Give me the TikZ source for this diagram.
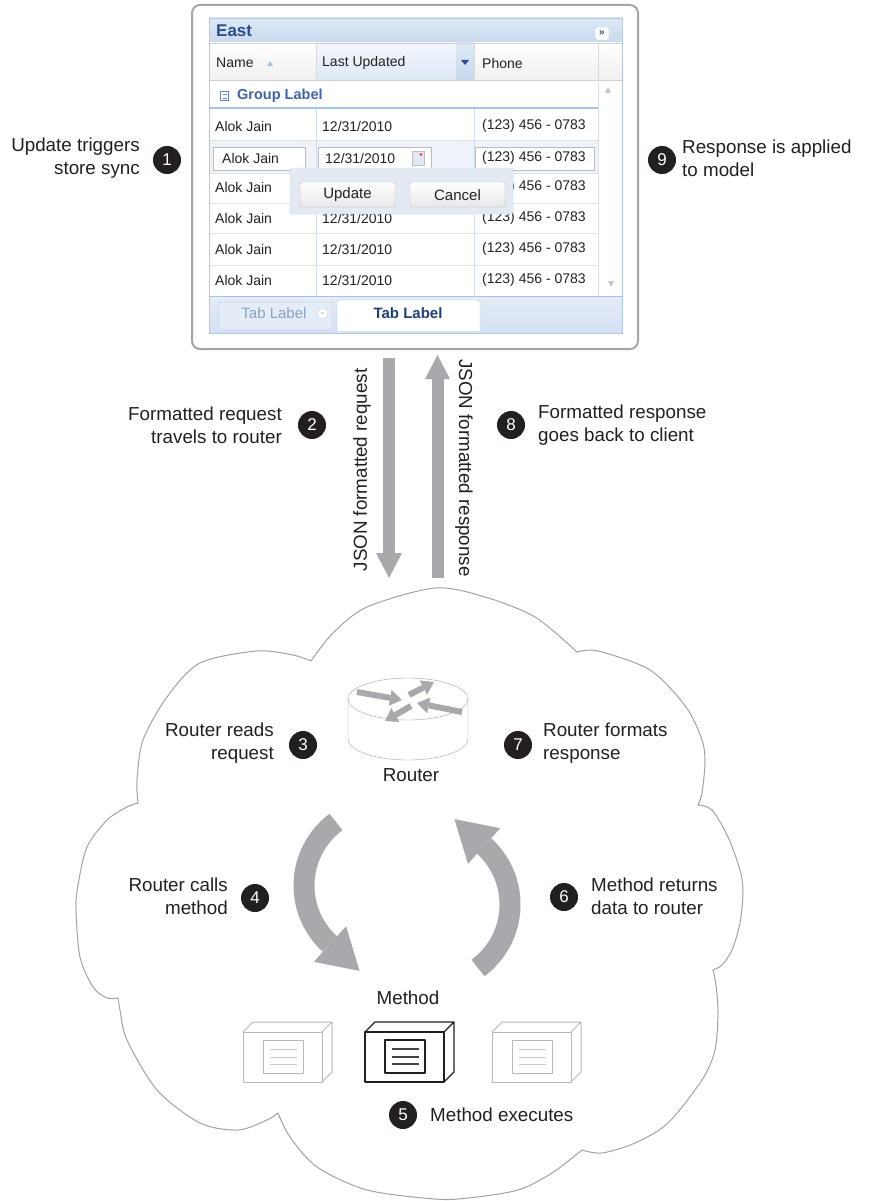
\documentclass[tikz,border=0pt]{standalone}
\usepackage{fontspec}
\setmainfont{Liberation Sans}
\usetikzlibrary{calc}

\definecolor{ink}{HTML}{231F20}
\definecolor{flowgray}{HTML}{A7A9AC}
\definecolor{cloudedge}{HTML}{A0A2A5}
\definecolor{framegray}{HTML}{A6A6A6}
\definecolor{panelborder}{HTML}{B4C8E4}
\definecolor{hdrtop}{HTML}{DFE9F6}
\definecolor{hdrbot}{HTML}{C8D8EE}
\definecolor{titleblue}{HTML}{2B4F8C}
\definecolor{groupblue}{HTML}{3E64A8}
\definecolor{groupline}{HTML}{A9C3E7}
\definecolor{rowline}{HTML}{E3E3E3}
\definecolor{colline}{HTML}{D3DFF0}
\definecolor{celltext}{HTML}{222222}
\definecolor{fieldedge}{HTML}{B7BCC6}
\definecolor{editrow}{HTML}{EFF3F9}
\definecolor{popupbg}{HTML}{E3EAF4}
\definecolor{popupedge}{HTML}{BFCCDE}
\definecolor{btnedge}{HTML}{B9B9B9}
\definecolor{tabbar}{HTML}{D3E0F2}
\definecolor{tabedge}{HTML}{A9C0E0}
\definecolor{tabdim}{HTML}{8CA2C2}
\definecolor{tabbold}{HTML}{1F3F7A}
\definecolor{boxgray}{HTML}{B8B8B8}
\definecolor{boxline}{HTML}{C9C9C9}
\definecolor{routeredge}{HTML}{A3A3A3}

\newcommand\labelsize{\fontsize{18.8pt}{23pt}\selectfont}
\newcommand\cellsize{\fontsize{14pt}{16pt}\selectfont}

% thick arrow: tail, tip, shaft width, half head width, head length
\newcommand\fatarrow[5]{%
  \coordinate (fabase) at ($(#2)!#5!(#1)$);
  \draw[line width=#3] (#1) -- (fabase);
  \fill ($(fabase)!#4!90:(#2)$) -- (#2) -- ($(fabase)!#4!-90:(#2)$) -- cycle;}

% method box: left x, outline colour, text-line colour, line width
\newcommand\methodbox[4]{%
  \begin{scope}[shift={(#1,0)}, line width=#4, line join=round]
    \draw[#2, fill=white] (0,1032) rectangle (79,1082);
    \draw[#2] (0,1032) -- (10,1022) -- (89,1022) -- (79,1032)
              (89,1022) -- (89,1072) -- (79,1082);
    \draw[#2] (20,1040) rectangle (60,1073);
    \draw[#3] (27,1049) -- (54,1049) (27,1057) -- (54,1057) (27,1064) -- (54,1064);
  \end{scope}}

\begin{document}
\begin{tikzpicture}[x=1pt, y=-1pt,
  lbl/.style={font=\labelsize, text=ink, inner sep=0pt},
  lblright/.style={lbl, align=right, anchor=east},
  lblleft/.style={lbl, align=left, anchor=west},
  numdot/.style={circle, fill=ink, text=white, minimum size=28pt, inner sep=0pt,
                 font=\fontsize{17pt}{17pt}\selectfont},
  cell/.style={font=\cellsize, text=celltext, anchor=west, inner sep=0pt},
  cloudline/.style={draw=cloudedge, line width=1pt},
]
\useasboundingbox (0,0) rectangle (869,1201);

% ---------------- grid window ----------------
\draw[framegray, line width=2pt, fill=white, rounded corners=8pt] (192,5) rectangle (638,349);
\shade[top color=hdrtop, bottom color=hdrbot] (209,18) rectangle (622,43);
\node[font=\fontsize{17pt}{17pt}\selectfont\bfseries, text=titleblue, anchor=west, inner sep=0pt]
  (east) at (216,31) {East};
\draw[panelborder, fill=white, rounded corners=1.5pt] (595,27) rectangle (609,40);
\node[font=\fontsize{10pt}{10pt}\selectfont\bfseries, text=titleblue, inner sep=0pt]
  (collapse) at (602,33) {»};

% column headers
\shade[top color=white, bottom color=gray!12] (209,43) rectangle (622,80);
\shade[top color=hdrtop!40, bottom color=hdrtop] (316,43) rectangle (474,80);
\shade[top color=hdrtop, bottom color=hdrbot] (456,43) rectangle (474,80);
\draw[gray!35] (209,43) -- (622,43) (209,80) -- (622,80);
\draw[gray!30] (316,43) -- (316,80) (474,43) -- (474,80) (598,43) -- (598,80);
\node[cell] (hname) at (216,63) {Name};
\fill[groupline] (267,66) -- (273,66) -- (270,61) -- cycle;
\node[cell] (hdate) at (322,63) {Last Updated};
\fill[titleblue] (461,60) -- (469,60) -- (465,65) -- cycle;
\node[cell] (hphone) at (482,63) {Phone};

% scroll column
\draw[gray!25] (598,80) -- (598,296);
\fill[gray!45] (605,93) -- (611,93) -- (608,87) -- cycle;
\fill[gray!45] (608,281) -- (614,281) -- (611,287) -- cycle;

% group row
\draw[groupblue!80, line width=0.9pt] (220.5,91.5) rectangle (228.5,100.5);
\draw[groupblue!80, line width=0.9pt] (222.5,94) -- (226.5,94) (222.5,98) -- (226.5,98);
\node[font=\fontsize{14.5pt}{16pt}\selectfont\bfseries, text=groupblue, anchor=west, inner sep=0pt]
  (group) at (237,96) {Group Label};
\draw[groupline, line width=2pt] (209,108) -- (598,108);

% rows
\fill[editrow] (209,140) rectangle (598,173);
\draw[rowline] (209,140) -- (598,140) (209,173) -- (598,173) (209,203) -- (598,203)
               (209,233) -- (598,233) (209,265) -- (598,265);
\draw[colline] (316,109) -- (316,296) (474,109) -- (474,296);

\node[cell] (n1) at (215,126) {Alok Jain};
\node[cell] (d1) at (322,126) {12/31/2010};
\node[cell] (p1) at (482,126) {(123) 456 - 0783};

\draw[fieldedge, fill=white] (213,147) rectangle (305,170);
\draw[fieldedge, fill=white] (318,147) rectangle (431,170);
\draw[fieldedge, fill=white] (475,147) rectangle (594,170);
\draw[gray!50, fill=hdrtop] (412,151) rectangle (424,165);
\fill[red!75] (421,154.5) circle (1.6pt);
\node[cell] (n2) at (222,158) {Alok Jain};
\node[cell] (d2) at (325,158) {12/31/2010};
\node[cell] (p2) at (482,158) {(123) 456 - 0783};

\node[cell] (n3) at (215,187) {Alok Jain};
\node[cell] (p3) at (482,187) {(123) 456 - 0783};
\node[cell] (n4) at (215,218) {Alok Jain};
\node[cell] (d4) at (322,218) {12/31/2010};
\node[cell] (p4) at (482,218) {(123) 456 - 0783};
\node[cell] (n5) at (215,249) {Alok Jain};
\node[cell] (d5) at (322,249) {12/31/2010};
\node[cell] (p5) at (482,249) {(123) 456 - 0783};
\node[cell] (n6) at (215,280) {Alok Jain};
\node[cell] (d6) at (322,280) {12/31/2010};
\node[cell] (p6) at (482,280) {(123) 456 - 0783};

% row editor buttons
\draw[popupedge, fill=popupbg, rounded corners=2pt] (290,168) -- (290,214) -- (513,214) -- (513,168);
\shade[top color=white, bottom color=gray!18, draw=btnedge, rounded corners=2pt] (300,182) rectangle (395,207);
\shade[top color=white, bottom color=gray!18, draw=btnedge, rounded corners=2pt] (410,182) rectangle (505,207);
\node[font=\fontsize{15pt}{16pt}\selectfont, text=celltext, inner sep=0pt] (update) at (347.5,195) {Update};
\node[font=\fontsize{15pt}{16pt}\selectfont, text=celltext, inner sep=0pt] (cancel) at (457.5,195) {Cancel};

% tab strip
\shade[top color=tabbar!60, bottom color=tabbar] (209,296) rectangle (622,333);
\draw[tabedge] (209,296) -- (622,296);
\draw[tabedge, fill=hdrtop!85, rounded corners=2pt] (219,329) -- (219,302) -- (332,302) -- (332,329);
\node[font=\fontsize{15pt}{16pt}\selectfont, text=tabdim, inner sep=0pt] (tab1) at (274,313) {Tab Label};
\draw[tabdim!70, fill=white, rounded corners=1pt] (318,309) rectangle (327,318);
\node[font=\fontsize{6pt}{6pt}\selectfont, text=tabdim, inner sep=0pt] (tabx) at (322.5,313.5) {×};
\draw[tabedge, fill=white, rounded corners=2pt] (337,331) -- (337,300) -- (480,300) -- (480,331);
\node[font=\fontsize{15pt}{16pt}\selectfont\bfseries, text=tabbold, inner sep=0pt] (tab2) at (408,313) {Tab Label};
\draw[panelborder] (209,18) rectangle (622,333);

% ---------------- request / response ----------------
\coordinate (reqtail) at (389,358);
\coordinate (reqtip) at (389,578);
\coordinate (resptail) at (437.5,578);
\coordinate (resptip) at (437.5,355);
\begin{scope}[color=flowgray]
  \fatarrow{reqtail}{reqtip}{12pt}{13pt}{25pt}
  \fatarrow{resptail}{resptip}{12pt}{12.5pt}{24pt}
\end{scope}
\node[lbl, rotate=90] (reqlabel) at (362,470) {JSON formatted request};
\node[lbl, rotate=-90] (resplabel) at (464,468) {JSON formatted response};

% ---------------- cloud ----------------
\draw[cloudline]
  plot[smooth] coordinates {(311,661) (333,633) (367,607) (435,588) (485,597) (535,617) (577,652)}
  -- plot[smooth] coordinates {(577,652) (598,651) (650,670) (686,707) (702,740) (705,762) (702,793) (698,805)}
  -- plot[smooth] coordinates {(698,805) (712,810) (728,837) (740,870) (743,892) (740,923) (732,950) (722,965) (713,970)}
  -- plot[smooth] coordinates {(713,970) (716,985) (718,1013) (715,1050) (702,1080) (668,1123) (635,1143) (602,1153) (582,1150)}
  -- plot[smooth] coordinates {(582,1150) (552,1173) (518,1190) (468,1198) (435,1199) (367,1190) (317,1167) (290,1137) (278,1113)}
  -- plot[smooth] coordinates {(278,1113) (267,1120) (238,1130) (200,1123) (157,1090) (127,1040) (120,1010) (118,998)}
  -- plot[smooth] coordinates {(118,998) (107,998) (93,987) (80,957) (76,910) (78,885) (87,847) (107,820) (127,807) (138,803)}
  -- plot[smooth] coordinates {(138,803) (137,780) (143,740) (167,697) (200,663) (257,651) (293,655) (311,661)};

% ---------------- router ----------------
\draw[routeredge, fill=white] (348,699) -- (348,739)
  arc[start angle=180, end angle=0, x radius=60, y radius=21] -- (468,699);
\draw[routeredge, fill=white] (408,699) ellipse [x radius=60, y radius=21];
\coordinate (ra1) at (357,692); \coordinate (ra2) at (402,700);
\coordinate (rb1) at (409,695); \coordinate (rb2) at (434,682);
\coordinate (rc1) at (462,712); \coordinate (rc2) at (417,703);
\coordinate (rd1) at (411,706); \coordinate (rd2) at (385,721);
\begin{scope}[color=flowgray]
  \fatarrow{ra1}{ra2}{6pt}{8pt}{12pt}
  \fatarrow{rb1}{rb2}{6pt}{8pt}{12pt}
  \fatarrow{rc1}{rc2}{6pt}{8pt}{12pt}
  \fatarrow{rd1}{rd2}{6pt}{8pt}{12pt}
\end{scope}
\node[lbl] (router) at (411,775) {Router};

% ---------------- call / return arrows ----------------
\coordinate (callstart) at (336,822);
\coordinate (retstart) at (478,968);
\draw[flowgray, line width=21pt] (callstart) arc[start angle=233.5, end angle=132.2, radius=79];
\fill[flowgray] (313.8,961.8) -- (359.6,970.9) -- (346.05,926.24) -- cycle;
\draw[flowgray, line width=21pt] (retstart) arc[start angle=53.5, end angle=-47.8, radius=79];
\fill[flowgray] (500.2,828.2) -- (454.4,819.1) -- (467.95,863.76) -- cycle;

% ---------------- methods ----------------
\node[lbl] (method) at (408,998) {Method};
\methodbox{243}{boxgray}{boxline}{1pt}
\methodbox{365}{ink}{ink!85}{1.3pt}
\methodbox{492}{boxgray}{boxline}{1pt}

% ---------------- step labels ----------------
\node[numdot] (s1) at (167,160) {1};
\node[lblright] (t1) at (140,158) {Update triggers\\store sync};
\node[numdot] (s9) at (662,160) {9};
\node[lblleft] (t9) at (682,158) {Response is applied\\to model};
\node[numdot] (s2) at (312,425) {2};
\node[lblright] (t2) at (282,425) {Formatted request\\travels to router};
\node[numdot] (s8) at (511,425) {8};
\node[lblleft] (t8) at (538,425) {Formatted response\\goes back to client};
\node[numdot] (s3) at (303,745) {3};
\node[lblright] (t3) at (274,743) {Router reads\\request};
\node[numdot] (s7) at (518,745) {7};
\node[lblleft] (t7) at (543,743) {Router formats\\response};
\node[numdot] (s4) at (255,898) {4};
\node[lblright] (t4) at (228,896) {Router calls\\method};
\node[numdot] (s6) at (564,897) {6};
\node[lblleft] (t6) at (591,896) {Method returns\\data to router};
\node[numdot] (s5) at (403,1115) {5};
\node[lblleft] (t5) at (430,1115) {Method executes};

\end{tikzpicture}
\end{document}
